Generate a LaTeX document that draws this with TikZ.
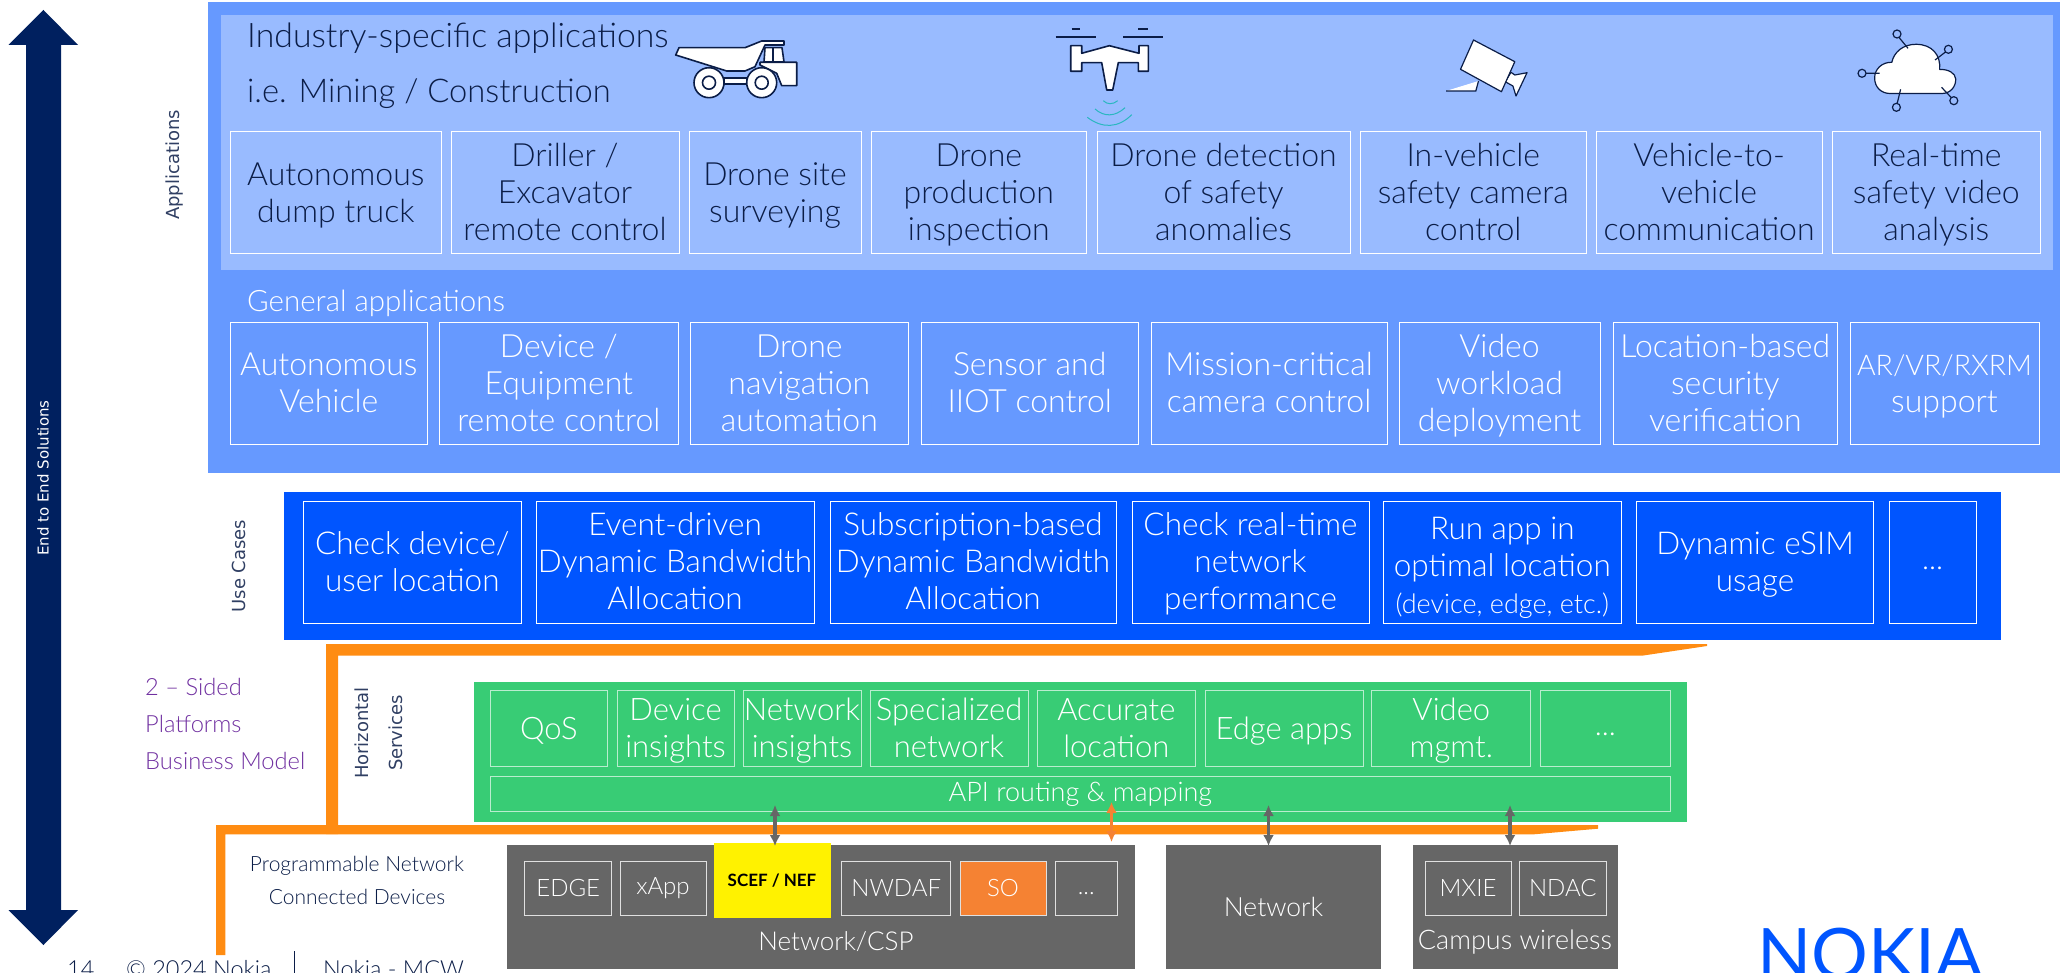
\documentclass[tikz,border=0pt]{standalone}
\usepackage{fontspec}
\usepackage{xcolor}
\usepackage{tikz}
\usetikzlibrary{arrows.meta}
\setmainfont{Lato}[UprightFont=* Light,BoldFont=* Bold]
\newfontfamily\widefont{DejaVu Sans}
\newfontfamily\logofont{Lato}
\definecolor{panelblue}{HTML}{6699FF}
\definecolor{lightblue}{HTML}{99BBFF}
\definecolor{nokiablue}{HTML}{0055FF}
\definecolor{navy}{HTML}{00205F}
\definecolor{inkblue}{HTML}{0B1D47}
\definecolor{tealblue}{HTML}{2AB7C0}
\definecolor{greenpanel}{HTML}{38CC75}
\definecolor{greyblock}{HTML}{666666}
\definecolor{bandorange}{HTML}{FF8C12}
\definecolor{soorange}{HTML}{F58233}
\definecolor{purpletext}{HTML}{7030A0}
\newcommand{\rows}[1]{\rule{0pt}{30pt}#1\rule[-8.4pt]{0pt}{8.4pt}}
\tikzset{
    dotstrut/.style={execute at begin node=\strut, execute at end node=\strut},
    rowbox/.style={draw=white, line width=1pt, inner sep=0pt, align=center, font=\fontsize{32}{37}\selectfont},
    appbox/.style={rowbox, text=inkblue, minimum height=122},
    genbox/.style={rowbox, text=white, minimum height=121},
    usebox/.style={rowbox, text=white, minimum height=122, font=\fontsize{31.5}{37}\selectfont},
    svcbox/.style={rowbox, draw=white!65!greenpanel, text=white, minimum height=75.4, font=\fontsize{31}{37}\selectfont},
    netbox/.style={rowbox, draw=white!80!greyblock, text=white, minimum height=54, font=\fontsize{24}{30}\selectfont},
    block/.style={fill=greyblock, inner sep=0pt, minimum height=124, text=white, font=\fontsize{26.5}{30}\selectfont},
    sidelabel/.style={rotate=90, text=inkblue!85, align=center, font=\widefont\fontsize{18}{34}\selectfont},
    heading/.style={anchor=west, inner sep=0pt, font=\fontsize{33}{37}\selectfont},
    footnote/.style={anchor=west, inner sep=0pt, text=inkblue, font=\fontsize{23.5}{30}\selectfont},
    icon/.style={fill=white, draw=inkblue, line width=1.6pt, line join=round},
    apilink/.style={{Latex[length=11pt,width=11pt]}-{Latex[length=11pt,width=11pt]}, line width=3.5pt, draw=greyblock},
}

\begin{document}
\begin{tikzpicture}[x=1pt, y=-1pt]
    \useasboundingbox (0, 0) rectangle (2060, 973);

    % Arrow on the left
    \fill[navy] (43.5, 10) -- (78, 45) -- (61, 45) -- (61, 910) -- (78, 910) -- (43.5, 945) -- (8.5, 910) -- (26, 910) -- (26, 45) -- (8.5, 45) -- cycle;
    \node[rotate=90, text=white, font=\widefont\fontsize{15}{20}\selectfont] (endtoend) at (43, 478) {End to End Solutions};

    % Applications
    \fill[panelblue] (208, 2) rectangle (2060, 473);
    \fill[lightblue] (221, 15) rectangle (2053, 270);
    \node[sidelabel] (applabel) at (175, 165) {Applications};
    \node[heading, text=inkblue, font=\fontsize{33.8}{37}\selectfont] (industry) at (247, 38) {Industry-specific applications};
    \node[heading, text=inkblue, font=\fontsize{32.7}{37}\selectfont] (mining) at (247, 94) {i.e. Mining / Construction};
    \node[heading, text=white, font=\fontsize{29.5}{37}\selectfont] (general) at (247, 303) {General applications};

    % Truck
    \draw[icon] (675.7, 55) -- (679, 47.7) -- (745, 47.7) -- (761.7, 41) -- (784, 41) -- (784, 45) -- (765, 45) -- (755, 66.7) -- (745, 71) -- (726.7, 71) -- cycle;
    \draw[icon] (765, 47.7) -- (782, 47.7) -- (784, 62) -- (764, 62) -- cycle;
    \draw[inkblue, line width=1.6pt] (773, 47.7) -- (773, 62);
    \draw[icon] (760, 62.3) -- (796.7, 62.3) -- (796.7, 85.7) -- (781.7, 85.7) -- (776.7, 73.3) -- (760, 65) -- cycle;
    \draw[icon] (724, 78.3) rectangle (747, 84);
    \draw[icon] (709, 82.7) circle (15);
    \draw[icon] (709, 82.7) circle (6.5);
    \draw[icon] (761.7, 82.7) circle (15);
    \draw[icon] (761.7, 82.7) circle (6.5);

    % Drone
    \draw[inkblue, line width=1.8pt] (1055.7, 37.3) -- (1095.7, 37.3);
    \draw[inkblue, line width=1.8pt] (1123.3, 37.3) -- (1162.7, 37.3);
    \draw[inkblue, line width=1.8pt] (1071.7, 29.3) -- (1079.7, 29.3);
    \draw[inkblue, line width=1.8pt] (1138.3, 29.3) -- (1147.7, 29.3);
    \draw[icon] (1070.7, 45.7) -- (1081.7, 45.7) -- (1081.7, 53.3) -- (1109.3, 45.7) -- (1139, 53.3) -- (1139, 45.7) -- (1148.3, 45.7) -- (1148.3, 71.3) -- (1138.3, 71.3) -- (1138.3, 62.7) -- (1118.3, 62.7) -- (1112.7, 90) -- (1106.7, 90) -- (1101.7, 62.7) -- (1081.7, 62.7) -- (1081.7, 71.3) -- (1070.7, 71.3) -- cycle;
    \draw[tealblue, line width=1pt] (1103.3, 100.7) .. controls (1107, 104.7) and (1113, 104.7) .. (1117.7, 100.7);
    \draw[tealblue, line width=1pt] (1095, 109) .. controls (1104, 117) and (1115, 117) .. (1125, 107.7);
    \draw[tealblue, line width=1pt] (1087.3, 117.3) .. controls (1102, 128.5) and (1118, 128.5) .. (1131.7, 114.7);

    % Camera
    \fill[white] (1446, 91) -- (1478.5, 81) -- (1475.8, 91) -- cycle;
    \draw[inkblue, line width=1.2pt] (1446, 91) -- (1475.8, 91) -- (1478.5, 81);
    \draw[icon, line width=1.2pt] (1511, 72.3) -- (1514.8, 75) -- (1527, 72.7) -- (1516, 96) -- (1512.9, 86) -- (1505.2, 81.7) -- cycle;
    \draw[icon, line width=1.2pt] (1473.5, 40) -- (1514.8, 61.7) -- (1501.4, 91.7) -- (1460.5, 69.3) -- cycle;

    % Cloud
    \draw[icon, line width=1.2pt] (1890, 93.5) -- (1942, 93.5) .. controls (1950, 93.5) and (1956, 87) .. (1955.7, 79) .. controls (1955.5, 73) and (1948, 69) .. (1939.6, 69.5) .. controls (1941, 55) and (1932, 44.3) .. (1916, 44.3) .. controls (1903, 44.3) and (1894, 52) .. (1891.8, 62.3) .. controls (1882, 62) and (1874.6, 69) .. (1874.6, 78) .. controls (1874.6, 87) and (1881, 93.5) .. (1890, 93.5) -- cycle;
    \draw[inkblue, line width=1.2pt] (1897, 34) circle (4) (1899, 37.5) -- (1908, 48.3);
    \draw[inkblue, line width=1.2pt] (1948.4, 49.3) circle (4) (1945.5, 52) -- (1935, 60);
    \draw[inkblue, line width=1.2pt] (1862, 73.3) circle (4) (1866, 73.3) -- (1879.5, 73.3);
    \draw[inkblue, line width=1.2pt] (1896.4, 107.3) circle (4) (1897.2, 103.3) -- (1900.6, 89.3);
    \draw[inkblue, line width=1.2pt] (1953.8, 100.7) circle (4) (1951.3, 97.6) -- (1941.5, 87.3);

    % Industry-specific row
    \node[appbox, minimum width=210.4] (dumptruck) at (335.8, 193) {\rows{Autonomous\\dump truck}};
    \node[appbox, minimum width=228] (driller) at (565, 193) {\rows{Driller /\\Excavator\\remote control}};
    \node[appbox, minimum width=172] (sitesurvey) at (775, 193) {\rows{Drone site\\surveying}};
    \node[appbox, minimum width=215.5] (inspection) at (978.8, 193) {\rows{Drone\\production\\inspection}};
    \node[appbox, minimum width=253] (detection) at (1223.5, 193) {\rows{Drone detection\\of safety\\anomalies}};
    \node[appbox, minimum width=225.5] (invehicle) at (1473.3, 193) {\rows{In-vehicle\\safety camera\\control}};
    \node[appbox, minimum width=226] (v2v) at (1709, 193) {\rows{Vehicle-to-\\vehicle\\communication}};
    \node[appbox, minimum width=208.5] (safetyvideo) at (1936.3, 193) {\rows{Real-time\\safety video\\analysis}};

    % General row
    \node[genbox, minimum width=196.4] (autovehicle) at (328.8, 383.5) {\rows{Autonomous\\Vehicle}};
    \node[genbox, minimum width=238.4] (equipment) at (558.8, 383.5) {\rows{Device /\\Equipment\\remote control}};
    \node[genbox, minimum width=217.5] (navigation) at (799.3, 383.5) {\rows{Drone\\navigation\\automation}};
    \node[genbox, minimum width=217.4] (sensor) at (1029.7, 383.5) {\rows{Sensor and\\IIOT control}};
    \node[genbox, minimum width=236] (mission) at (1269, 383.5) {\rows{Mission-critical\\camera control}};
    \node[genbox, minimum width=201] (workload) at (1499.5, 383.5) {\rows{Video\\workload\\deployment}};
    \node[genbox, minimum width=224.5] (security) at (1725.3, 383.5) {\rows{Location-based\\security\\verification}};
    \node[genbox, minimum width=189, font=\fontsize{28.5}{37}\selectfont] (arvr) at (1944.5, 383.5) {\rows{AR/VR/RXRM\\{\fontsize{32}{37}\selectfont support}}};

    % Use cases
    \fill[nokiablue] (284, 492) rectangle (2001, 640);
    \node[sidelabel] (uselabel) at (238.5, 566) {Use Cases};
    \node[usebox, minimum width=217.5] (location) at (412.3, 562) {\rows{Check device/\\user location}};
    \node[usebox, minimum width=278] (eventdriven) at (675, 562) {\rows{Event-driven\\Dynamic Bandwidth\\Allocation}};
    \node[usebox, minimum width=286] (subscription) at (973, 562) {\rows{Subscription-based\\Dynamic Bandwidth\\Allocation}};
    \node[usebox, minimum width=237] (realtime) at (1250.5, 562) {\rows{Check real-time\\network\\performance}};
    \node[usebox, minimum width=237.5] (runapp) at (1502.3, 562) {\rows{\rule{0pt}{38pt}Run app in\\optimal location\\{\fontsize{27}{35}\selectfont (device, edge, etc.)}}};
    \node[usebox, minimum width=237] (esim) at (1755, 562) {\rows{Dynamic eSIM\\usage}};
    \node[usebox, dotstrut, minimum width=87, font=\fontsize{30}{37}\selectfont] (usedots) at (1932.5, 562) {...};

    % Orange bands
    \fill[bandorange] (326, 644) -- (1707, 644) -- (1707, 646) -- (1642, 655.7) -- (338, 655.7) -- (338, 834) -- (326, 834) -- cycle;
    \fill[bandorange] (216, 825) -- (1598, 825) -- (1598, 828.7) -- (1534, 834.3) -- (225.4, 834.3) -- (225.4, 955) -- (216, 955) -- cycle;

    % Horizontal services
    \node[text=purpletext, anchor=west, inner sep=0pt, font=\fontsize{23.7}{37}\selectfont, align=left] (sided) at (145, 724) {2 -- Sided\\Platforms\\Business Model};
    \node[sidelabel] (svclabel) at (379, 733) {Horizontal\\Services};
    \fill[greenpanel] (474.4, 682) rectangle (1687, 821.7);
    \node[svcbox, minimum width=117.8] (qos) at (548.9, 728.3) {\rows{QoS}};
    \node[svcbox, minimum width=117] (deviceins) at (675.5, 728.3) {\rows{Device\\insights}};
    \node[svcbox, minimum width=118] (networkins) at (802, 728.3) {\rows{Network\\insights}};
    \node[svcbox, minimum width=158] (specialized) at (949, 728.3) {\rows{Specialized\\network}};
    \node[svcbox, minimum width=158.6] (accurate) at (1116.3, 728.3) {\rows{Accurate\\location}};
    \node[svcbox, minimum width=158] (edgeapps) at (1284, 728.3) {\rows{Edge apps}};
    \node[svcbox, minimum width=158.7] (videomgmt) at (1451.3, 728.3) {\rows{Video\\mgmt.}};
    \node[svcbox, dotstrut, minimum width=130.6, font=\fontsize{30}{37}\selectfont] (svcdots) at (1605.3, 728.3) {...};
    \node[rowbox, draw=white!65!greenpanel, text=white, minimum width=1180.6, minimum height=34.7, font=\fontsize{27}{30}\selectfont] (api) at (1080.3, 794.3) {API routing \& mapping};

    % Network blocks
    \node[text=inkblue, align=center, font=\fontsize{21}{33}\selectfont] (programmable) at (357, 880.5) {Programmable Network\\Connected Devices};
    \node[block, minimum width=628] (csp) at (821, 907) {};
    \node[block, minimum width=215] (network) at (1273.5, 907) {Network};
    \node[block, minimum width=205] (campus) at (1515, 907) {};
    \node[netbox, minimum width=86.7] (edgebox) at (568.3, 888) {EDGE};
    \node[netbox, minimum width=86] (xapp) at (663, 888) {xApp};
    \node[fill=yellow, inner sep=0pt, minimum width=117, minimum height=74.7, font=\bfseries\fontsize{17}{20}\selectfont] (scef) at (772, 880.3) {SCEF / NEF};
    \node[netbox, minimum width=109] (nwdaf) at (896.2, 888) {NWDAF};
    \node[netbox, fill=soorange, minimum width=86] (so) at (1003, 888) {SO};
    \node[netbox, dotstrut, minimum width=62.4] (netdots) at (1086.2, 888) {...};
    \node[netbox, minimum width=86] (mxie) at (1468, 888) {MXIE};
    \node[netbox, minimum width=86.5] (ndac) at (1562.8, 888) {NDAC};
    \node[text=white, font=\fontsize{26}{30}\selectfont] (csplabel) at (836, 942) {Network/CSP};
    \node[text=white, font=\fontsize{27}{30}\selectfont] (campuslabel) at (1515, 942) {Campus wireless};

    % API links
    \coordinate (linka) at (775, 805);
    \coordinate (linkb) at (775, 846);
    \coordinate (linkc) at (1111.5, 802);
    \coordinate (linkd) at (1111.5, 842);
    \coordinate (linke) at (1268.5, 805);
    \coordinate (linkf) at (1268.5, 846);
    \coordinate (linkg) at (1510, 805);
    \coordinate (linkh) at (1510, 846);
    \draw[apilink] (linka) -- (linkb);
    \draw[apilink, draw=soorange] (linkc) -- (linkd);
    \draw[apilink] (linke) -- (linkf);
    \draw[apilink] (linkg) -- (linkh);

    % Footer
    \node[footnote] (pagenum) at (67, 969) {14};
    \node[footnote] (copyright) at (126, 969) {© 2024 Nokia};
    \draw[inkblue, line width=1pt] (294, 951) -- (294, 973);
    \node[footnote] (footer) at (323, 969) {Nokia - MCW};

    % Logo
    \node[text=nokiablue, anchor=base west, inner sep=0pt, font=\logofont\fontsize{71}{80}\selectfont] (logo) at (1757, 979) {NOKIA};
\end{tikzpicture}
\end{document}
